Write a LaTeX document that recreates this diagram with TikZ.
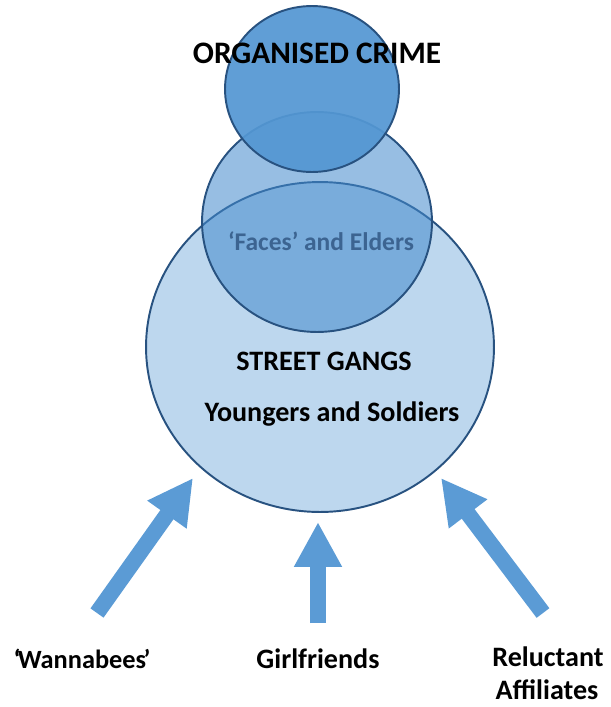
\documentclass[tikz,border=0pt]{standalone}
\usepackage{fontspec}
\setmainfont{Carlito}
\usepackage{xcolor}
\usetikzlibrary{arrows.meta, positioning}
\definecolor{ringline}{RGB}{40, 82, 128}
\definecolor{gangblue}{RGB}{189, 215, 238}
\definecolor{elderblue}{RGB}{66, 137, 204}
\definecolor{crimeblue}{RGB}{84, 151, 211}
\definecolor{arrowblue}{RGB}{91, 155, 213}
\definecolor{eldertext}{RGB}{60, 100, 145}

\tikzset{
    ring/.style={draw=ringline, line width=1.1pt},
    label/.style={font=\bfseries\fontsize{16}{19}\selectfont, anchor=base, inner sep=0pt},
    feeder/.style={arrowblue, line width=0.32cm, -{Triangle[length=0.9cm, width=0.9cm]}}
}

\begin{document}
\begin{tikzpicture}[x=0.02cm, y=-0.02cm]
        \useasboundingbox (0,0) rectangle (610,707);
        
        % Street gangs
        \draw[ring, fill=gangblue] (320,347) ellipse [x radius=3.48cm, y radius=3.3cm];
        
        % Faces and elders
        \draw[ring, fill=elderblue, fill opacity=0.55] (317,222) ellipse [x radius=2.3cm, y radius=2.2cm];
        
        % Organised crime
        \draw[ring, fill=crimeblue, fill opacity=0.93] (312,89) ellipse [x radius=1.74cm, y radius=1.66cm];
        
        % Texts
        \node[label, font=\bfseries\fontsize{17.8}{21}\selectfont] (crime) at (317,63) {ORGANISED CRIME};
        \node[label, eldertext, font=\bfseries\fontsize{14.5}{17}\selectfont] (elders) at (321,250) {‘Faces’ and Elders};
        \node[label] (gangs) at (324,370) {STREET GANGS};
        \node[label] (soldiers) at (332,421) {Youngers and Soldiers};
        
        \node[label, font=\bfseries\fontsize{15}{18}\selectfont] (wannabees) at (82,668) {‘\kern-0.1em Wannabees\kern-0.1em ’};
        \node[label] (girlfriends) at (318,668) {Girlfriends};
        \node[label] (reluctant) at (548,666) {Reluctant};
        \node[label] (affiliates) at (547,699) {Affiliates};
        
        % Arrows into the gang
        \coordinate (wtail) at (97,613);
        \coordinate (wtip) at (193,478);
        \coordinate (gtail) at (318,623);
        \coordinate (gtip) at (318,522);
        \coordinate (rtail) at (543,613);
        \coordinate (rtip) at (441,478);
        \draw[feeder] (wtail) -- (wtip);
        \draw[feeder] (gtail) -- (gtip);
        \draw[feeder] (rtail) -- (rtip);
    \end{tikzpicture}
\end{document}
